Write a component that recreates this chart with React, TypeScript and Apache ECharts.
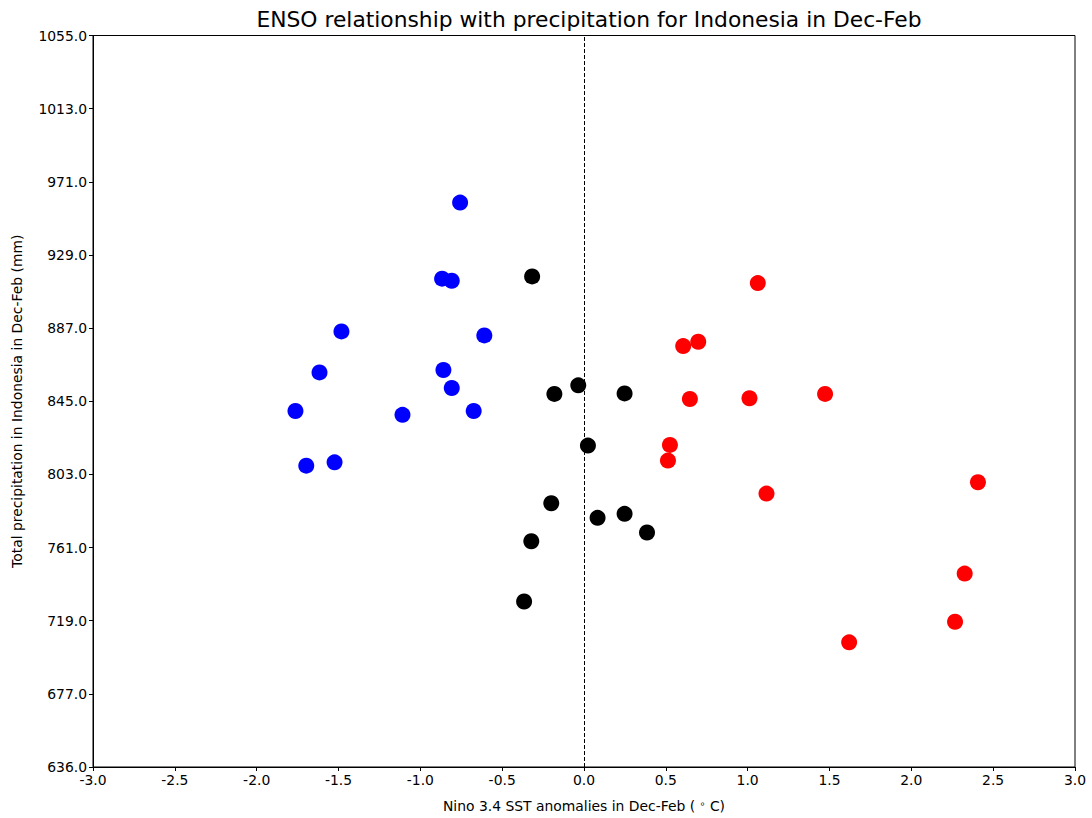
import React, { useEffect, useRef } from "react";
import * as echarts from "echarts";

const titleText = "ENSO relationship with precipitation for Indonesia in Dec-Feb";
const xAxisName = "Nino 3.4 SST anomalies in Dec-Feb ( {sup|∘} C)";
const yAxisName = "Total precipitation in Indonesia in Dec-Feb (mm)";

const yTickValues = [636, 677.9, 719.8, 761.7, 803.6, 845.5, 887.4, 929.3, 971.2, 1013.1, 1055];

// La Nina years (blue)
const laNinaX = [-0.757, -0.867, -0.808, -1.482, -0.609, -1.616, -0.859, -0.808, -1.763, -1.109, -0.674, -1.697, -1.524];
const laNinaY = [959.3, 915.7, 914.5, 885.5, 883.2, 862.0, 863.4, 853.1, 839.9, 837.7, 839.9, 808.6, 810.5];

// Neutral years (black)
const neutralX = [-0.317, -0.035, -0.181, 0.248, 0.024, -0.2, 0.083, 0.248, 0.385, -0.322, -0.366];
const neutralY = [917.0, 854.6, 849.7, 850.0, 820.1, 787.1, 778.7, 781.0, 770.3, 765.3, 730.8];

// El Nino years (red)
const elNinoX = [1.062, 0.606, 0.698, 0.647, 1.011, 1.473, 0.525, 0.513, 1.115, 2.407, 2.326, 2.267, 1.62];
const elNinoY = [913.2, 877.1, 879.6, 846.8, 847.2, 849.7, 820.5, 811.5, 792.6, 799.1, 746.8, 719.2, 707.4];

const zip = (xs: number[], ys: number[]) => xs.map((x, i) => [x, ys[i]]);

const FONT = "DejaVu Sans";

export default function App() {
  const ref = useRef<HTMLDivElement>(null);
  useEffect(() => {
    if (!ref.current) return;
    const chart = echarts.init(ref.current, null, { renderer: "svg" });
    const tickLabel = { fontFamily: FONT, fontSize: 13.9, color: "#000" };
    chart.setOption({
      animation: false,
      backgroundColor: "#fff",
      title: {
        text: titleText,
        left: 584,
        textAlign: "center",
        top: 3,
        textStyle: { fontFamily: FONT, fontSize: 21.8, fontWeight: "normal", color: "#000" },
      },
      grid: {
        left: 93,
        right: 17,
        top: 35.5,
        bottom: 50.5,
        show: true,
        borderColor: "#000",
        borderWidth: 1,
        backgroundColor: "transparent",
      },
      xAxis: {
        type: "value",
        min: -3,
        max: 3,
        interval: 0.5,
        name: xAxisName,
        nameLocation: "middle",
        nameGap: 31,
        nameTextStyle: {
          fontFamily: FONT,
          fontSize: 13.9,
          color: "#000",
          rich: { sup: { fontFamily: FONT, fontSize: 9.5, verticalAlign: "top", padding: [0, 0, 6, 0], color: "#000" } },
        },
        axisLine: { show: true, onZero: false, lineStyle: { color: "#000", width: 1 } },
        axisTick: { show: true, inside: false, length: 4, lineStyle: { color: "#000" } },
        axisLabel: { ...tickLabel, margin: 6, formatter: (v: number) => v.toFixed(1) },
        splitLine: { show: false },
      },
      yAxis: {
        type: "value",
        min: 636,
        max: 1055,
        name: yAxisName,
        nameLocation: "middle",
        nameGap: 69,
        nameTextStyle: { fontFamily: FONT, fontSize: 13.9, color: "#000" },
        axisLine: { show: true, onZero: false, lineStyle: { color: "#000", width: 1 } },
        axisTick: { show: true, inside: false, length: 4, customValues: yTickValues, lineStyle: { color: "#000" } },
        axisLabel: {
          ...tickLabel,
          margin: 6,
          customValues: yTickValues,
          formatter: (v: number) => Math.floor(v + 1e-6).toFixed(1),
        },
        splitLine: { show: false },
      },
      series: [
        {
          type: "scatter",
          name: "La Nina",
          data: zip(laNinaX, laNinaY),
          symbolSize: 16,
          itemStyle: { color: "#0000ff", opacity: 1 },
          markLine: {
            silent: true,
            symbol: ["none", "none"],
            label: { show: false },
            lineStyle: { color: "#000", type: [4, 2], width: 1 },
            data: [{ xAxis: 0 }],
          },
        },
        {
          type: "scatter",
          name: "Neutral",
          data: zip(neutralX, neutralY),
          symbolSize: 16,
          itemStyle: { color: "#000000", opacity: 1 },
        },
        {
          type: "scatter",
          name: "El Nino",
          data: zip(elNinoX, elNinoY),
          symbolSize: 16,
          itemStyle: { color: "#ff0000", opacity: 1 },
        },
      ],
    });
    return () => chart.dispose();
  }, []);
  return (
    <div
      ref={ref}
      style={{ position: "absolute", left: 0, top: 0, width: 1092, height: 818, background: "#fff" }}
    />
  );
}
